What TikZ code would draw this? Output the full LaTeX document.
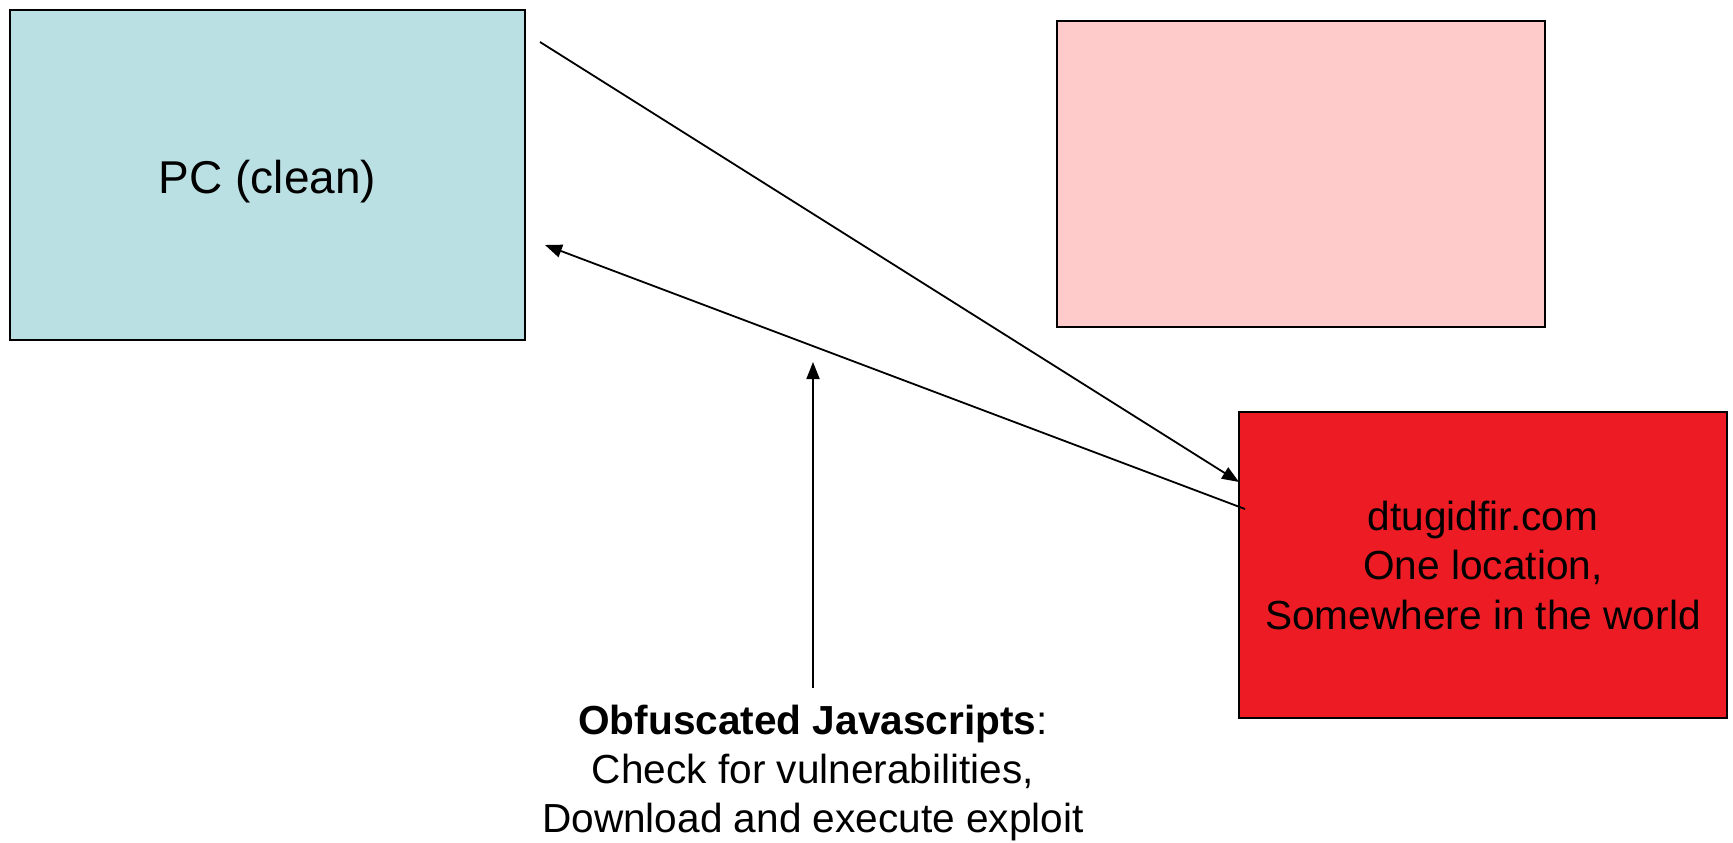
\documentclass[tikz,border=0pt]{standalone}
\usepackage{fontspec}
\setmainfont{Liberation Sans}
\usetikzlibrary{arrows.meta}
\definecolor{pcblue}{HTML}{BBE0E3}
\definecolor{softpink}{HTML}{FECBCA}
\definecolor{hostred}{HTML}{ED1C24}
\begin{document}
\begin{tikzpicture}[x=1pt,y=-1pt,
  box/.style={draw=black,line width=2pt,rectangle,inner sep=0pt},
  link/.style={line width=1.8pt,-{Triangle[length=17pt,width=13pt]}},
  bigtext/.style={font=\fontsize{46}{55}\selectfont},
  bodytext/.style={font=\fontsize{40.6}{49.5}\selectfont,align=center}]
  \useasboundingbox (0,0) rectangle (1733,843);

  % boxes
  \node[box,fill=pcblue,minimum width=515pt,minimum height=329pt,
        bigtext,text height=37pt,text depth=0pt] (pc) at (267.5,175) {PC (clean)};
  \node[box,fill=softpink,minimum width=488pt,minimum height=306pt] (decoy) at (1301,174) {};
  \node[box,fill=hostred,minimum width=488pt,minimum height=306pt,bodytext]
        (host) at (1483,565) {dtugidfir.com\\One location,\\Somewhere in the world};

  % caption under the vertical arrow
  \node[bodytext,font=\fontsize{40.6}{49}\selectfont,anchor=north,
        inner xsep=0pt,inner ysep=17pt] (js) at (813,688)
        {\textbf{Obfuscated Javascripts}:\\Check for vulnerabilities,\\Download and execute exploit};

  % arrow end points
  \coordinate (pcout) at (540,42);
  \coordinate (pcin) at (545,245);
  \coordinate (hostin) at (1239,482);
  \coordinate (hostout) at (1245,509);
  \coordinate (jsup) at (813,362);

  % connectors
  \draw[link] (pcout) -- (hostin);
  \draw[link] (hostout) -- (pcin);
  \draw[link] (js.north) -- (jsup);
\end{tikzpicture}
\end{document}
